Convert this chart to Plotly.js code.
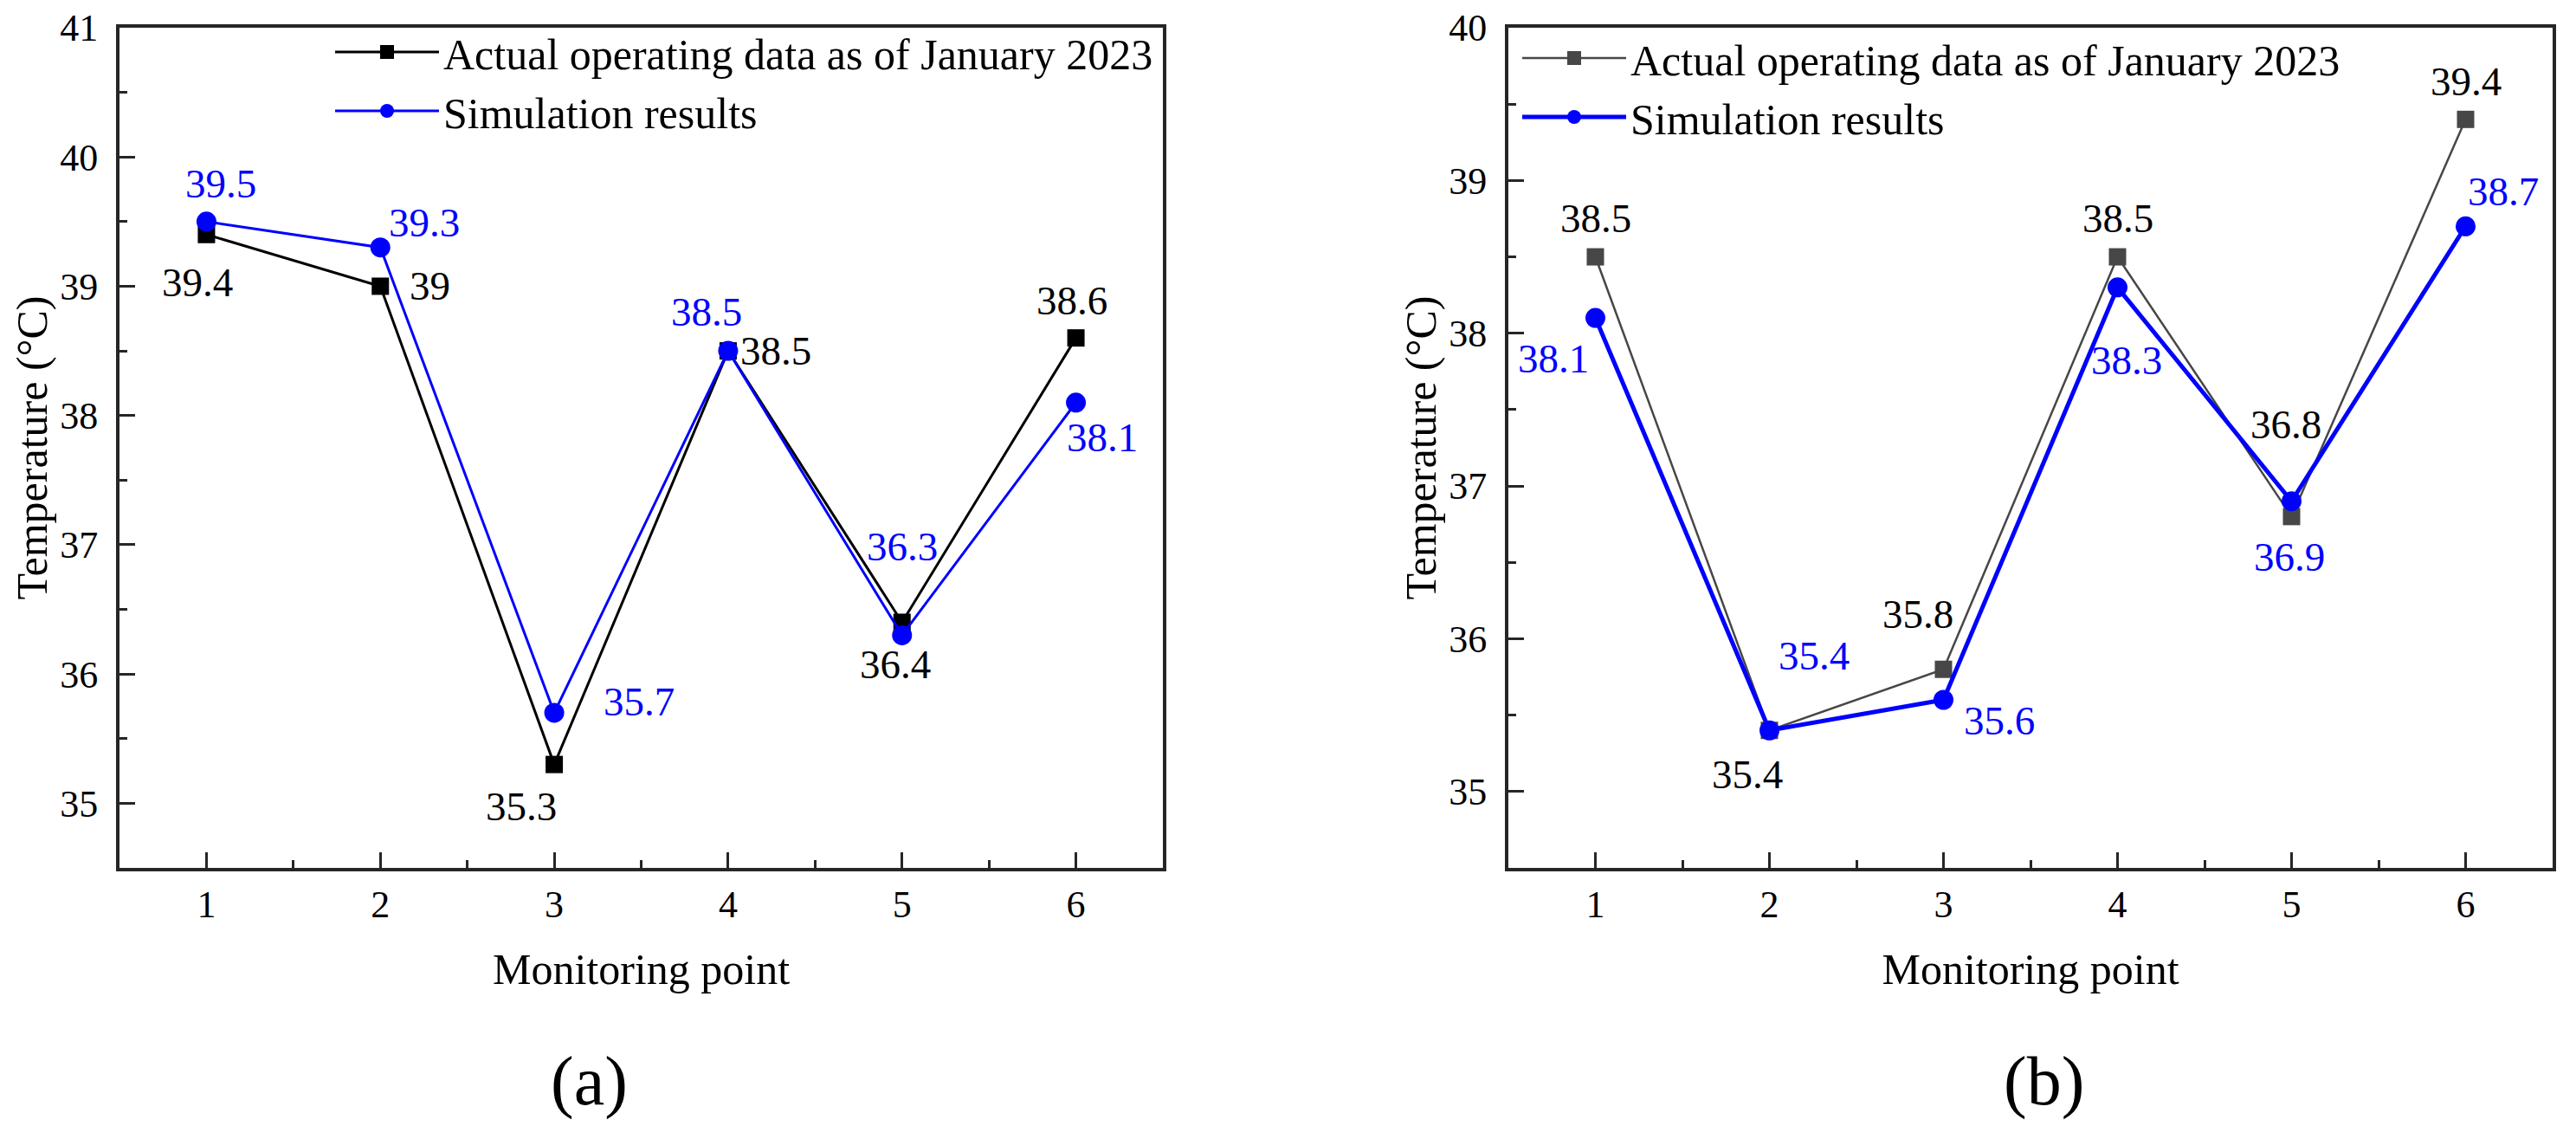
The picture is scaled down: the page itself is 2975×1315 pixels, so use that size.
<!DOCTYPE html>
<html><head><meta charset="utf-8">
<script src="https://cdn.plot.ly/plotly-3.0.1.min.js"></script>
<style>html,body{margin:0;padding:0;background:#fff}#chart{width:2975px;height:1315px}</style>
</head><body><div id="chart"></div>
<script>
// ---- data ----
const monitoringPoints = [1, 2, 3, 4, 5, 6];
const actualA = [39.4, 39.0, 35.3, 38.5, 36.4, 38.6];
const simA    = [39.5, 39.3, 35.7, 38.5, 36.3, 38.1];
const actualB = [38.5, 35.4, 35.8, 38.5, 36.8, 39.4];
const simB    = [38.1, 35.4, 35.6, 38.3, 36.9, 38.7];
const seriesNames = ['Actual operating data as of January 2023', 'Simulation results'];
const yTicksA = [35, 36, 37, 38, 39, 40, 41];
const yTicksB = [35, 36, 37, 38, 39, 40];
const panelLabels = ['(a)', '(b)'];
const xTitle = 'Monitoring point';
const yTitle = 'Temperature (°C)';

// ---- label offsets (px; dx right, dy down) ----
const offActA = [[-10, 55], [57, 0], [-38, 48], [55, 0], [-8, 49], [-5, -43]];
const offSimA = [[17, -44], [51, -29], [98, -13], [-25, -45], [0, -102], [30, 40]];
const offActB = [[0, -45], [-26, 51], [-30, -64], [0, -45], [-7, -106], [0, -44]];
const offSimB = [[-49, 47], [51, -86], [64, 24], [10, 84], [-3, 64], [43, -40]];

const FONT = 'Liberation Serif';
const W = 2975, H = 1315;
const BLUE = '#0000FF', BLACK = '#000000', GRAY = '#474747', AXC = '#262626';

const traces = [
  {x: monitoringPoints, y: actualA, xaxis: 'x', yaxis: 'y', name: seriesNames[0], legend: 'legend',
   mode: 'lines+markers', line: {color: BLACK, width: 3}, marker: {symbol: 'square', size: 20, color: BLACK}},
  {x: monitoringPoints, y: simA, xaxis: 'x', yaxis: 'y', name: seriesNames[1], legend: 'legend',
   mode: 'lines+markers', line: {color: BLUE, width: 3}, marker: {symbol: 'circle', size: 23, color: BLUE}},
  {x: monitoringPoints, y: actualB, xaxis: 'x2', yaxis: 'y2', name: seriesNames[0], legend: 'legend2',
   mode: 'lines+markers', line: {color: GRAY, width: 2.5}, marker: {symbol: 'square', size: 20, color: GRAY}},
  {x: monitoringPoints, y: simB, xaxis: 'x2', yaxis: 'y2', name: seriesNames[1], legend: 'legend2',
   mode: 'lines+markers', line: {color: BLUE, width: 5}, marker: {symbol: 'circle', size: 23, color: BLUE}}
];

function axisBase() {
  return {
    showline: true, mirror: true, linewidth: 4, linecolor: AXC,
    ticks: 'inside', ticklen: 18, tickwidth: 3, tickcolor: AXC,
    showgrid: false, zeroline: false,
    tickfont: {family: FONT, size: 44, color: BLACK},
    minor: {ticks: 'inside', ticklen: 9, tickwidth: 3, tickcolor: AXC, dtick: 0.5, showgrid: false}
  };
}
function xAxis(dom) {
  return Object.assign(axisBase(), {
    domain: dom, range: [0.5, 6.5], tickvals: monitoringPoints,
    title: {text: xTitle, font: {family: FONT, size: 50, color: BLACK}, standoff: 34}
  });
}
function yAxis(range, ticks, anchor) {
  return Object.assign(axisBase(), {
    domain: [313 / H, 1283 / H], range: range, tickvals: ticks, anchor: anchor,
    ticklabelstandoff: 12,
    title: {text: yTitle, font: {family: FONT, size: 50, color: BLACK}, standoff: 0}
  });
}

function labelAnnots(xs, ys, offs, xref, yref, color) {
  return ys.map((v, i) => ({
    x: xs[i], y: v, xref: xref, yref: yref, text: String(v), showarrow: false,
    xanchor: 'center', yanchor: 'middle', xshift: offs[i][0], yshift: -offs[i][1],
    font: {family: FONT, size: 47, color: color}
  }));
}

const annotations = [].concat(
  labelAnnots(monitoringPoints, actualA, offActA, 'x', 'y', BLACK),
  labelAnnots(monitoringPoints, simA, offSimA, 'x', 'y', BLUE),
  labelAnnots(monitoringPoints, actualB, offActB, 'x2', 'y2', BLACK),
  labelAnnots(monitoringPoints, simB, offSimB, 'x2', 'y2', BLUE),
  [
    {text: panelLabels[0], xref: 'paper', yref: 'paper', x: 680 / W, y: (H - 1248) / H, showarrow: false,
     xanchor: 'center', yanchor: 'middle', font: {family: FONT, size: 80, color: BLACK}},
    {text: panelLabels[1], xref: 'paper', yref: 'paper', x: 2360 / W, y: (H - 1248) / H, showarrow: false,
     xanchor: 'center', yanchor: 'middle', font: {family: FONT, size: 80, color: BLACK}}
  ]
);

function legendCfg(xpx, ypx) {
  return {x: xpx / W, y: 1 - ypx / H, xanchor: 'left', yanchor: 'top', bgcolor: 'rgba(0,0,0,0)',
          borderwidth: 0, font: {family: FONT, size: 50, color: BLACK}, itemwidth: 120, tracegroupgap: 0};
}

const layout = {
  width: W, height: H, margin: {l: 0, r: 0, t: 0, b: 0},
  paper_bgcolor: '#ffffff', plot_bgcolor: '#ffffff', showlegend: true,
  font: {family: FONT, color: BLACK},
  xaxis: Object.assign(xAxis([138 / W, 1343 / W]), {anchor: 'y'}),
  yaxis: yAxis([34.5, 41], yTicksA, 'x'),
  xaxis2: Object.assign(xAxis([1742 / W, 2948 / W]), {anchor: 'y2'}),
  yaxis2: yAxis([34.5, 40], yTicksB, 'x2'),
  legend: legendCfg(382, 21),
  legend2: legendCfg(1753, 28),
  annotations: annotations
};

Plotly.newPlot('chart', traces, layout, {staticPlot: true, displayModeBar: false});
</script>
</body></html>
